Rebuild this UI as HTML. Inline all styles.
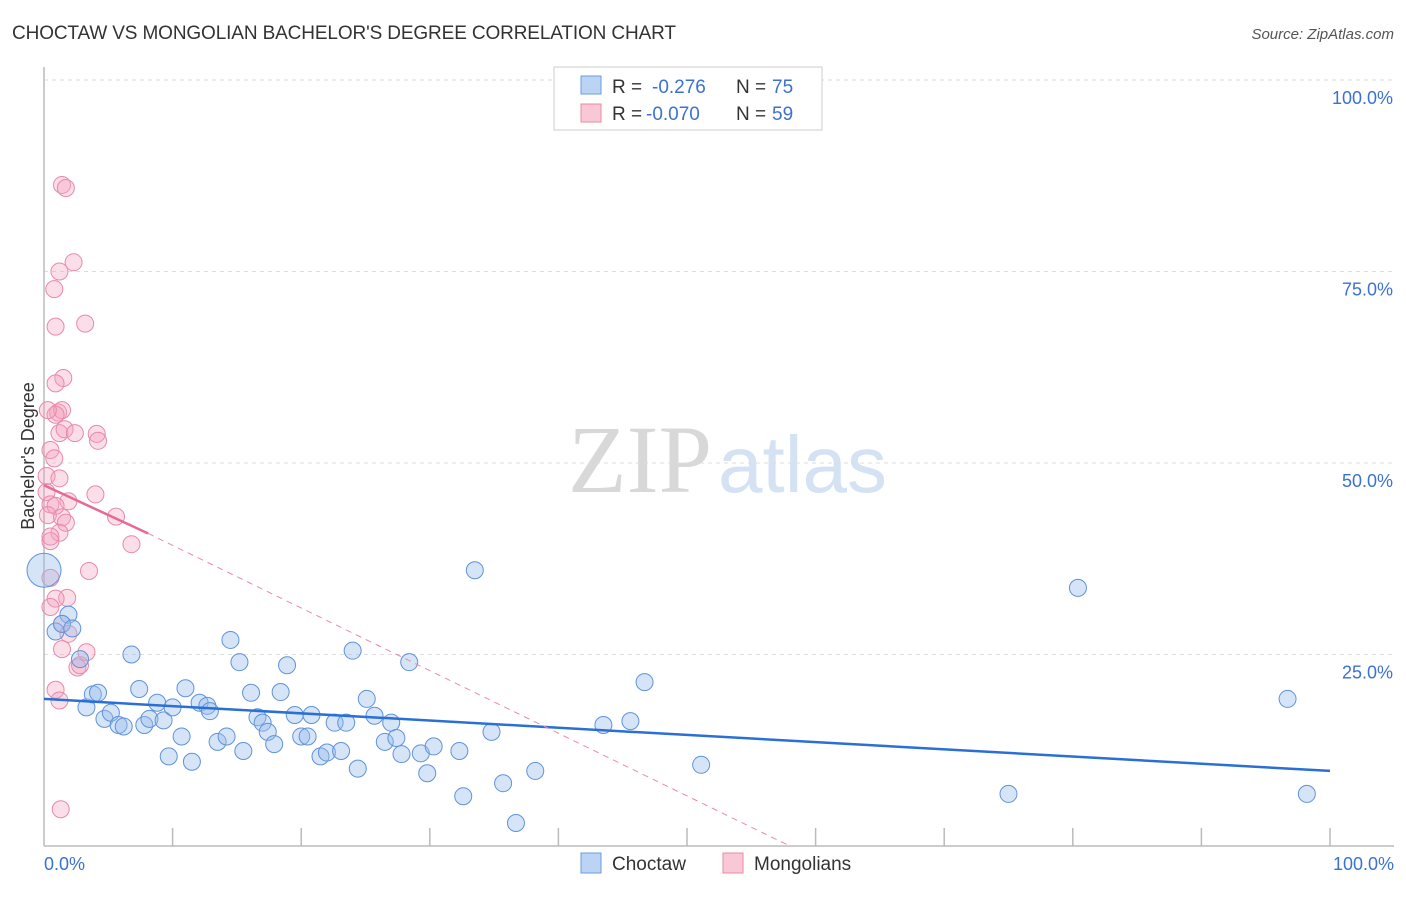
<!DOCTYPE html>
<html><head><meta charset="utf-8"><style>
body{margin:0;background:#fff;font-family:"Liberation Sans",sans-serif;}
svg text{font-family:"Liberation Sans",sans-serif;}
</style></head><body>
<svg id="c" width="1406" height="892">
<text x="12" y="39" font-size="19" fill="#333" textLength="664">CHOCTAW VS MONGOLIAN BACHELOR'S DEGREE CORRELATION CHART</text>
<text x="1394" y="39" font-size="15" fill="#555" font-style="italic" text-anchor="end">Source: ZipAtlas.com</text>
<text x="712" y="492" font-size="96" fill="#d8d8d8" style="font-family:'Liberation Serif',serif" text-anchor="end">ZIP</text>
<text x="718" y="492" font-size="80" fill="#d4e2f4">atlas</text>
<text transform="translate(34,456) rotate(-90)" font-size="18" fill="#333" text-anchor="middle">Bachelor's Degree</text>
<g id="grid"></g><g id="pts"></g><g id="lines"></g>
<g>
<rect x="554" y="67" width="268" height="63" fill="#fff" stroke="#ccc"/>
<rect x="581" y="76" width="20" height="18" fill="#bcd4f4" stroke="#6a9be0"/>
<rect x="581" y="104" width="20" height="18" fill="#f8c8d6" stroke="#e88aa8"/>
<text x="612" y="93" font-size="19" fill="#333">R =</text>
<text x="652" y="93" font-size="19" fill="#3b72d1">-0.276</text>
<text x="736" y="93" font-size="19" fill="#333">N =</text>
<text x="772" y="93" font-size="19" fill="#3b72d1">75</text>
<text x="612" y="120" font-size="19" fill="#333">R =</text>
<text x="646" y="120" font-size="19" fill="#3b72d1">-0.070</text>
<text x="736" y="120" font-size="19" fill="#333">N =</text>
<text x="772" y="120" font-size="19" fill="#3b72d1">59</text>
</g>
<g>
<rect x="581" y="853" width="20" height="20" fill="#bcd4f4" stroke="#6a9be0"/>
<text x="612" y="870" font-size="19" fill="#333">Choctaw</text>
<rect x="723" y="853" width="20" height="20" fill="#f8c8d6" stroke="#e88aa8"/>
<text x="754" y="870" font-size="19" fill="#333">Mongolians</text>
</g>
</svg>
<script>
const blueX=[0,0.9,1.9,1.4,2.2,2.8,3.3,3.8,4.2,4.7,5.2,5.8,6.2,6.8,7.4,7.8,8.2,8.8,9.3,9.7,10.0,10.7,11.0,11.5,12.1,12.7,12.9,13.5,14.2,14.5,15.2,15.5,16.1,16.6,17.0,17.4,17.9,18.4,18.9,19.5,20.0,20.5,20.8,21.5,22.0,22.6,23.1,23.5,24.0,24.4,25.1,25.7,26.5,27.0,27.4,27.8,28.4,29.3,29.8,30.3,32.3,32.6,33.5,34.8,35.7,36.7,38.2,43.5,45.6,46.7,51.1,75.0,80.4,96.7,98.2];
const blueY=[36,28,30.2,29,28.4,24.4,18.1,19.8,20.0,16.6,17.4,15.8,15.6,25.0,20.5,15.8,16.6,18.7,16.4,11.7,18.1,14.3,20.6,11.0,18.7,18.3,17.6,13.6,14.3,26.9,24.0,12.4,20.0,16.8,16.1,14.9,13.3,20.1,23.6,17.1,14.3,14.3,17.1,11.7,12.2,16.1,12.4,16.1,25.5,10.1,19.2,17.0,13.6,16.1,14.1,12.0,24.0,12.1,9.5,13.0,12.4,6.5,36.0,14.9,8.2,3.0,9.8,15.8,16.3,21.4,10.6,6.8,33.7,19.2,6.8];
const pinkX=[1.4,1.7,2.3,1.2,0.8,0.9,3.2,1.5,0.9,1.1,1.4,0.9,0.3,1.2,1.6,2.4,4.1,4.2,0.5,0.8,0.2,1.2,0.2,4.0,1.9,0.5,0.9,0.3,1.4,1.7,5.6,1.2,0.5,6.8,3.5,0.5,1.8,0.9,0.5,1.4,1.9,1.4,3.3,2.6,2.8,0.9,1.2,1.3,0.5];
const pinkY=[86.3,85.9,76.2,75.0,72.7,67.8,68.2,61.1,60.4,56.6,56.9,56.3,56.9,53.9,54.4,53.9,53.8,52.9,51.7,50.6,48.3,48.0,46.2,45.9,45.0,44.6,44.4,43.2,42.9,42.2,43.0,40.9,39.8,39.4,35.9,35.0,32.4,32.3,31.2,29.0,27.7,25.7,25.3,23.3,23.6,20.4,19.0,4.8,40.4];
const yTicks=[25,50,75,100];
const yTickLabels=["25.0%","50.0%","75.0%","100.0%"];
const blueLine=[[0,19.2],[100,9.8]];
const pinkLine=[[0,47.1],[8.1,40.8]];
const pinkDashEnd=[58,0];
const X=v=>44+v*12.86, Y=v=>846-v*7.66;
const NS="http://www.w3.org/2000/svg";
function mk(tag,attrs,parent){const e=document.createElementNS(NS,tag);for(const k in attrs)e.setAttribute(k,attrs[k]);document.getElementById(parent).appendChild(e);return e;}
yTicks.forEach((t,i)=>{
 const g=mk('line',{x1:44,x2:1394,y1:Y(t),y2:Y(t),stroke:'#ddd','stroke-dasharray':'4,4'},'grid');
 
 
 const l=mk('text',{x:1393,y:Y(t)+24,'font-size':18,fill:'#3b72d1','text-anchor':'end'},'grid');
 l.textContent=yTickLabels[i];
 
 
});
const ax=mk('line',{x1:44,x2:44,y1:67,y2:846,stroke:'#bbb','stroke-width':1.5},'grid');


const bx=mk('line',{x1:44,x2:1394,y1:846,y2:846,stroke:'#bbb','stroke-width':1.5},'grid');


for(let i=1;i<=10;i++){const t=mk('line',{x1:X(i*10),x2:X(i*10),y1:828,y2:846,stroke:'#bbb','stroke-width':1.5},'grid');
 
 }
const xl=mk('text',{x:44,y:870,'font-size':18,fill:'#3b72d1'},'grid');xl.textContent="0.0%";


const xr=mk('text',{x:1394,y:870,'font-size':18,fill:'#3b72d1','text-anchor':'end'},'grid');xr.textContent="100.0%";


pinkX.forEach((v,i)=>{const c=mk('circle',{cx:X(v),cy:Y(pinkY[i]),r:8.5,fill:'rgba(244,160,188,0.35)',stroke:'#e88aa8','stroke-width':1},'pts');
 
 });
blueX.forEach((v,i)=>{const c=mk('circle',{cx:X(v),cy:Y(blueY[i]),r:i==0?17:8.5,fill:'rgba(150,188,236,0.4)',stroke:'#5f93dc','stroke-width':1},'pts');
 
 });
const bl=mk('line',{x1:X(blueLine[0][0]),y1:Y(blueLine[0][1]),x2:X(blueLine[1][0]),y2:Y(blueLine[1][1]),stroke:'#2a6fd6','stroke-width':2.5},'lines');


const pd=mk('line',{x1:X(pinkLine[1][0]),y1:Y(pinkLine[1][1]),x2:X(pinkDashEnd[0]),y2:Y(pinkDashEnd[1]),stroke:'#e88aa8','stroke-width':1,'stroke-dasharray':'6,5'},'lines');


const pl=mk('line',{x1:X(pinkLine[0][0]),y1:Y(pinkLine[0][1]),x2:X(pinkLine[1][0]),y2:Y(pinkLine[1][1]),stroke:'#e56b92','stroke-width':2.5},'lines');


</script>
</body></html>
